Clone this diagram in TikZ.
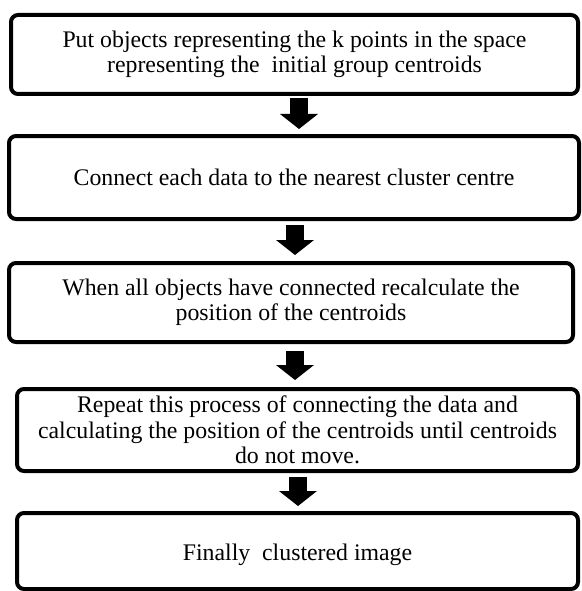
\documentclass[tikz,border=0pt]{standalone}
\usepackage{fontspec}
\setmainfont{Liberation Serif}
\usetikzlibrary{arrows.meta}
\begin{document}
\begin{tikzpicture}[x=1pt,y=-1pt,
  stepbox/.style={draw=black, line width=4pt, rounded corners=7pt, fill=white,
    align=center, inner sep=0pt, font=\fontsize{23.8}{25.5}\selectfont},
  flowarrow/.style={line width=18pt, draw=black,
    -{Triangle[width=38pt,length=15pt,line width=0pt 0 0]}}]
  % page frame
  \useasboundingbox (0,0) rectangle (581,591);

  % process steps
  \node[stepbox, minimum width=567pt, minimum height=79pt] (b1) at (294.5,54.5)
    {Put objects representing the k points in the space\\representing the\ \ initial group centroids};
  \node[stepbox, minimum width=570pt, minimum height=83pt] (b2) at (294,177.5)
    {Connect each data to the nearest cluster centre};
  \node[stepbox, minimum width=564pt, minimum height=79pt] (b3) at (291,302.5)
    {When all objects have connected recalculate the\\position of the centroids};
  \node[stepbox, minimum width=561pt, minimum height=82pt] (b4) at (297.5,430)
    {Repeat this process of connecting the data and\\calculating the position of the centroids until centroids\\do not move.};
  \node[stepbox, minimum width=561pt, minimum height=76pt] (b5) at (297.5,551)
    {\raisebox{-9pt}[0pt][0pt]{Finally\ \ clustered image}};

  % block arrows between steps
  \draw[flowarrow, shorten <=2pt, shorten >=5pt]
    ([xshift=4.5pt]b1.south) -- ([xshift=4.5pt]b1.south |- b2.north);
  \draw[flowarrow, shorten <=4pt, shorten >=6pt]
    ([xshift=1pt]b2.south) -- ([xshift=1pt]b2.south |- b3.north);
  \draw[flowarrow, shorten <=7pt, shorten >=7pt]
    ([xshift=4pt]b3.south) -- ([xshift=4pt]b3.south |- b4.north);
  \draw[flowarrow, shorten <=4pt, shorten >=5pt]
    ([xshift=0.5pt]b4.south) -- ([xshift=0.5pt]b4.south |- b5.north);
\end{tikzpicture}
\end{document}
